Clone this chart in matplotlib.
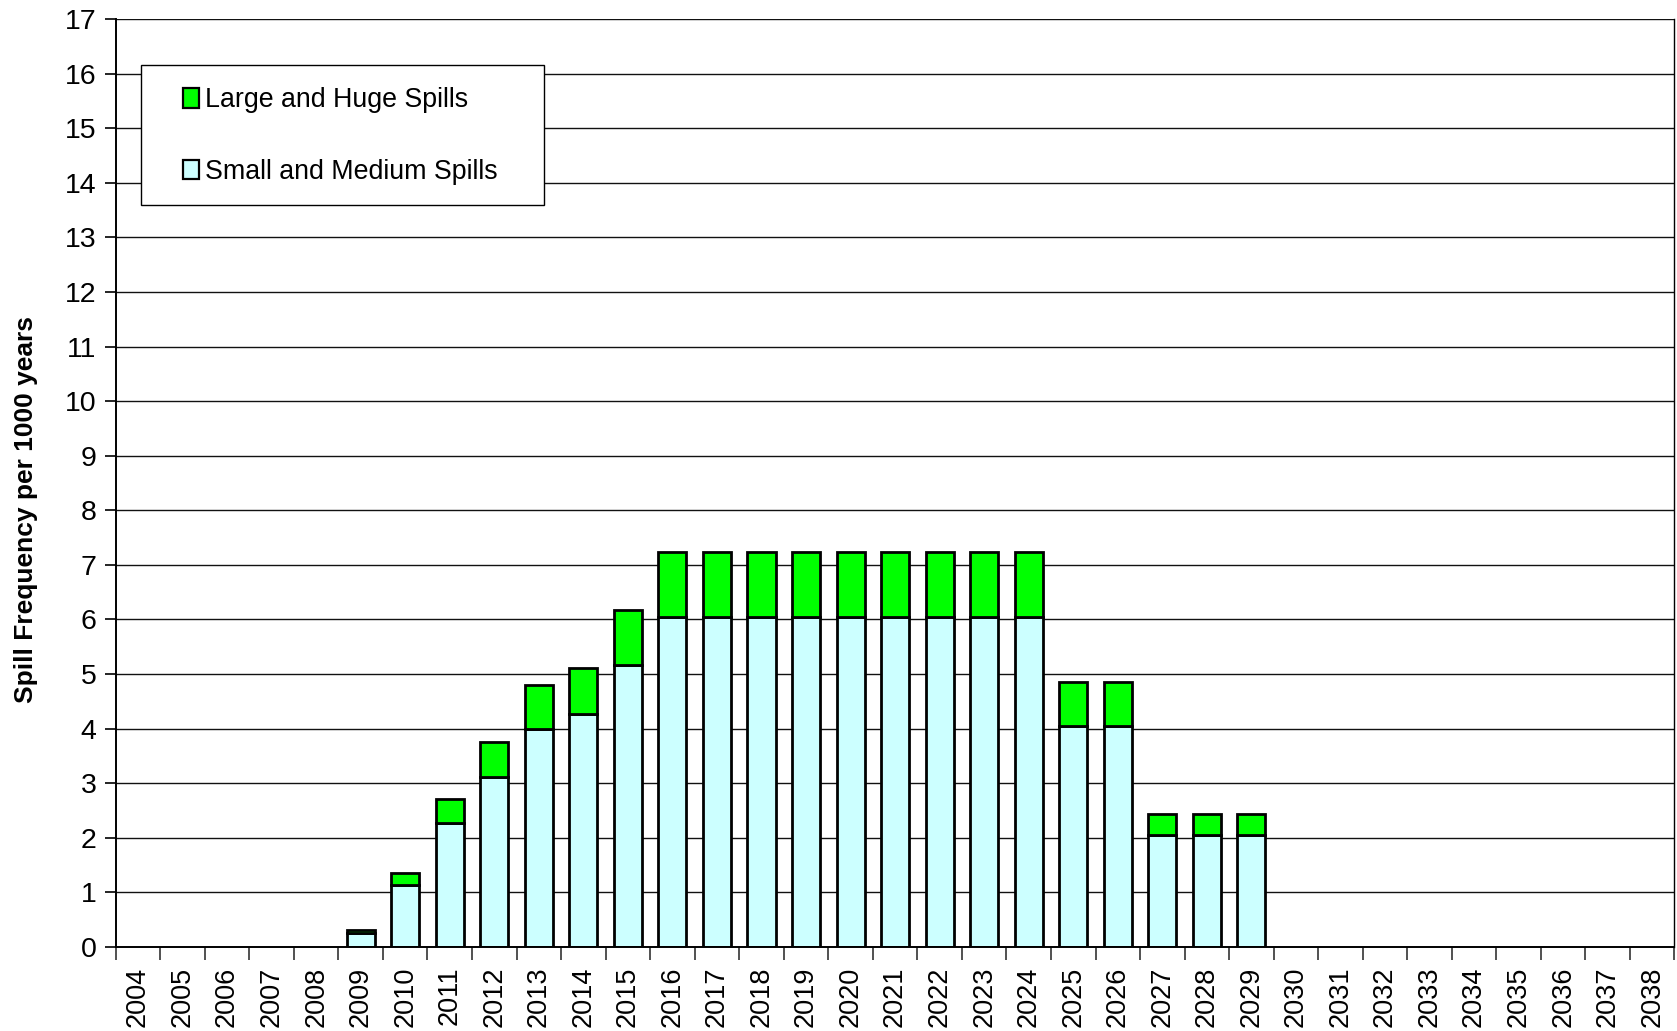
import matplotlib
matplotlib.use("Agg")
import matplotlib.pyplot as plt
from matplotlib.patches import Rectangle, Patch
import numpy as np

years = [str(y) for y in range(2004, 2039)]
small_medium = [0, 0, 0, 0, 0, 0.25, 1.14, 2.27, 3.12, 4.0, 4.27, 5.16,
                6.04, 6.04, 6.04, 6.04, 6.04, 6.04, 6.04, 6.04, 6.04,
                4.04, 4.04, 2.06, 2.06, 2.06,
                0, 0, 0, 0, 0, 0, 0, 0, 0]
large_huge = [0, 0, 0, 0, 0, 0.07, 0.21, 0.45, 0.64, 0.8, 0.85, 1.02,
              1.2, 1.2, 1.2, 1.2, 1.2, 1.2, 1.2, 1.2, 1.2,
              0.82, 0.82, 0.37, 0.37, 0.37,
              0, 0, 0, 0, 0, 0, 0, 0, 0]

plt.rcParams['font.family'] = ['Liberation Sans', 'DejaVu Sans']

fig = plt.figure(figsize=(16.77, 10.31), dpi=100)
ax = fig.add_axes([0.069, 0.0815, 0.9295, 0.9])

x = np.arange(len(years))
sm = np.array(small_medium)
lh = np.array(large_huge)
mask = (sm + lh) > 0
ax.bar(x[mask], sm[mask], width=0.63, color='#CCFFFF', edgecolor='black',
       linewidth=2.0, zorder=3)
ax.bar(x[mask], lh[mask], width=0.63, bottom=sm[mask], color='#00FF00',
       edgecolor='black', linewidth=2.0, zorder=3)

ax.set_xlim(-0.5, len(years) - 0.5)
ax.set_ylim(0, 17)
ax.set_yticks(range(0, 18))
ax.set_xticks(x)
ax.set_xticklabels(years, rotation=90, fontsize=19.5)
ax.set_xticks(np.arange(-0.5, len(years), 1.0), minor=True)
ax.tick_params(axis='x', which='major', length=0, pad=14)
ax.tick_params(axis='x', which='minor', length=9, width=1.2, color='#333333')
ax.tick_params(axis='y', length=8, width=1.2, labelsize=20.5, pad=6)

for y in range(1, 18):
    ax.axhline(y, color='#111111', linewidth=1.0, zorder=1)

for s in ['left', 'bottom']:
    ax.spines[s].set_linewidth(1.4)
    ax.spines[s].set_zorder(4)
ax.spines['top'].set_visible(False)
ax.spines['right'].set_color('black')
ax.spines['right'].set_linewidth(1.0)

ax.set_ylabel('Spill Frequency per 1000 years', fontsize=19, fontweight='bold')
ax.yaxis.set_label_coords(-0.050, 0.472)

# legend frame
rect = Rectangle((0.016, 0.800), 0.259, 0.151, transform=ax.transAxes,
                 facecolor='white', edgecolor='black', linewidth=1.0, zorder=5)
ax.add_patch(rect)
handles = [Patch(facecolor='#00FF00', edgecolor='black', linewidth=1.6),
           Patch(facecolor='#CCFFFF', edgecolor='black', linewidth=1.6)]
leg = ax.legend(handles, ['Large and Huge Spills', 'Small and Medium Spills'],
                loc='center left', bbox_to_anchor=(0.043, 0.874), frameon=False,
                fontsize=19.3, handlelength=0.62, handleheight=0.75,
                handletextpad=0.22, labelspacing=1.7, borderpad=0,
                borderaxespad=0)
leg.set_zorder(6)

fig.savefig('out.png', dpi=100)
